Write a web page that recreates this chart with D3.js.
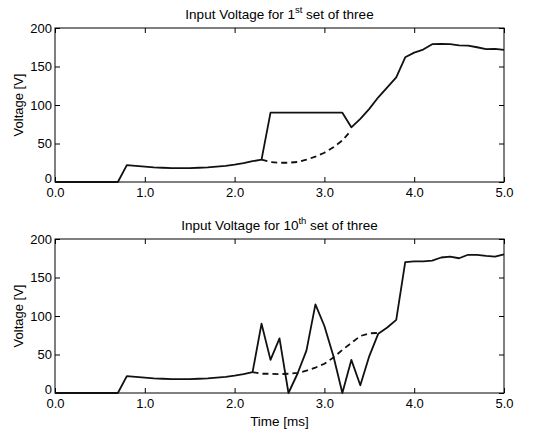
<!DOCTYPE html>
<html>
<head>
<meta charset="utf-8">
<script src="https://cdn.jsdelivr.net/npm/d3@7"></script>
<style>
  body { margin: 0; background: #fff; }
  text { font-family: "Liberation Sans", Arial, sans-serif; fill: #000; }
</style>
</head>
<body>
<svg id="chart"></svg>
<script>
// sample times 0.0 .. 5.0 ms, step 0.1
var time = d3.range(51).map(function (i) { return +(i / 10).toFixed(1) })

var xTicks = [0, 1, 2, 3, 4, 5]
var yTicks = [0, 50, 100, 150, 200]

// 1st set - measured (solid)
var volt1 = [0, 0, 0, 0, 0, 0, 0, 0, 22, 21,
  20, 19, 18.5, 18, 18, 18, 18.5, 19, 20, 21,
  22.5, 24.5, 27, 29, 90, 90, 90, 90, 90, 90,
  90, 90, 90, 71, 82, 95, 110, 123, 136, 162,
  168, 172, 179, 179.5, 179, 177.5, 177, 175, 172.5, 173,
  171.5]
// 1st set - expected (dashed), t 2.3 .. 3.3
var dashT1 = [2.3, 2.4, 2.5, 2.6, 2.7, 2.8, 2.9, 3.0, 3.1, 3.2, 3.3]
var dashV1 = [29, 26, 25, 25, 26, 29, 33, 38, 45, 54, 67]

// 10th set - measured (solid)
var volt10 = [0, 0, 0, 0, 0, 0, 0, 0, 22, 21,
  20, 19, 18.5, 18, 18, 18, 18.5, 19, 20, 21,
  22.5, 24.5, 27, 90, 43, 71, 0, 25, 55, 115,
  87, 48, 0, 43, 10, 48, 77, 85, 95, 170,
  171, 171, 172, 176, 177, 175, 179.5, 179.5, 178, 177,
  180]
// 10th set - expected (dashed), t 2.2 .. 3.6
var dashT10 = [2.2, 2.3, 2.4, 2.5, 2.6, 2.7, 2.8, 2.9, 3.0, 3.1, 3.2, 3.3, 3.4, 3.5, 3.6]
var dashV10 = [27, 25, 25, 24.5, 25, 26, 29, 33, 38, 46, 56, 65, 74, 77.5, 78]

var width = 541
var height = 431
var svg = d3.select('#chart').attr('width', width).attr('height', height)

var x = d3.scaleLinear().domain([0, 5]).range([55, 504])

function panel(top, bottom, ord, sup, solid, dT, dV, showXLabel) {
  var y = d3.scaleLinear().domain([0, 200]).range([bottom, top])
  var g = svg.append('g')

  // box
  g.append('rect').attr('x', x(0)).attr('y', top)
    .attr('width', x(5) - x(0)).attr('height', bottom - top)
    .attr('fill', 'none').attr('stroke', '#000').attr('stroke-width', 1)

  // axes with inward ticks (matlab style)
  var bottomAxis = d3.axisBottom(x).tickValues(xTicks).tickSizeInner(-5).tickSizeOuter(0)
    .tickPadding(6).tickFormat(d3.format('.1f'))
  var topAxis = d3.axisTop(x).tickValues(xTicks).tickSizeInner(-5).tickSizeOuter(0).tickFormat('')
  var leftAxis = d3.axisLeft(y).tickValues(yTicks).tickSizeInner(-5).tickSizeOuter(0).tickPadding(3)
  var rightAxis = d3.axisRight(y).tickValues(yTicks).tickSizeInner(-5).tickSizeOuter(0).tickFormat('')

  var ax = [
    g.append('g').attr('transform', 'translate(0,' + bottom + ')').call(bottomAxis),
    g.append('g').attr('transform', 'translate(0,' + top + ')').call(topAxis),
    g.append('g').attr('transform', 'translate(' + x(0) + ',0)').call(leftAxis),
    g.append('g').attr('transform', 'translate(' + x(5) + ',0)').call(rightAxis)
  ]
  ax.forEach(function (a) {
    a.select('.domain').remove()
    a.selectAll('line').attr('stroke', '#000')
    a.selectAll('text').attr('font-size', '13px').attr('fill', '#222')
      .attr('font-family', '"Liberation Sans", Arial, sans-serif')
  })
  // keep the "0" on the y axis clear of the "0.0" below it
  ax[2].selectAll('text').attr('dy', function (d) { return d === 0 ? '0em' : '0.32em' })

  var line = d3.line().x(function (d) { return x(d[0]) }).y(function (d) { return y(d[1]) })

  g.append('path')
    .datum(dT.map(function (t, i) { return [t, dV[i]] }))
    .attr('d', line).attr('fill', 'none').attr('stroke', '#111')
    .attr('stroke-width', 1.8).attr('stroke-dasharray', '6,4')

  g.append('path')
    .datum(time.map(function (t, i) { return [t, solid[i]] }))
    .attr('d', line).attr('fill', 'none').attr('stroke', '#111')
    .attr('stroke-width', 1.8).attr('stroke-linejoin', 'round')

  // title with superscript
  var title = g.append('text').attr('x', (x(0) + x(5)) / 2).attr('y', top - 9)
    .attr('text-anchor', 'middle').attr('font-size', '13.5px').attr('fill', '#222')
  title.append('tspan').text('Input Voltage for ' + ord)
  title.append('tspan').attr('dy', -6).attr('font-size', '9.5px').text(sup)
  title.append('tspan').attr('dy', 6).text(' set of three')

  g.append('text')
    .attr('transform', 'translate(23,' + ((top + bottom) / 2) + ') rotate(-90)')
    .attr('text-anchor', 'middle').attr('font-size', '13px').attr('fill', '#222').text('Voltage [V]')

  if (showXLabel) {
    g.append('text').attr('x', (x(0) + x(5)) / 2).attr('y', bottom + 33)
      .attr('text-anchor', 'middle').attr('font-size', '13.5px').attr('fill', '#222').text('Time [ms]')
  }
}

panel(28, 182, '1', 'st', volt1, dashT1, dashV1, false)
panel(239, 393, '10', 'th', volt10, dashT10, dashV10, true)
</script>
</body>
</html>
